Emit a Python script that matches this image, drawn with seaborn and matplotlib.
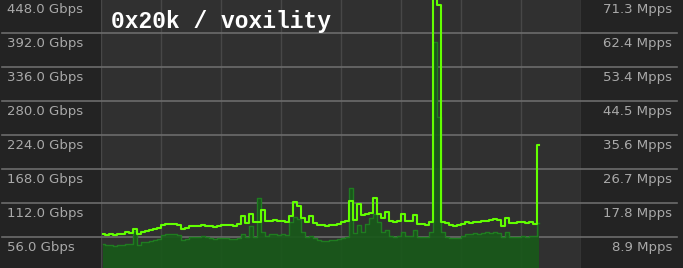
import matplotlib
matplotlib.use("Agg")
import matplotlib.pyplot as plt
import matplotlib.transforms as mtransforms
import numpy as np
import seaborn as sns

# ---------------- data ----------------
sample = list(range(110))

gbps = [44.5, 42.8, 42.8, 41.2, 42.8, 42.8, 44.5, 44.5, 65.9, 42.8,
        47.8, 47.8, 49.4, 51.1, 52.7, 59.3, 60.9, 60.9, 60.9, 59.3,
        51.1, 52.7, 56.0, 56.0, 56.0, 57.6, 56.0, 54.4, 52.7, 54.4,
        54.4, 54.4, 52.7, 52.7, 54.4, 60.9, 56.0, 74.1, 56.0, 120.2,
        64.2, 57.6, 60.9, 60.9, 59.3, 60.9, 59.3, 80.7, 88.9, 85.6,
        64.2, 56.0, 57.6, 54.4, 51.1, 49.4, 49.4, 51.1, 51.1, 52.7,
        54.4, 56.0, 136.7, 62.6, 75.8, 64.2, 77.4, 87.3, 93.9, 80.7,
        64.2, 67.5, 57.6, 56.0, 57.6, 64.2, 57.6, 57.6, 67.5, 56.0,
        56.0, 56.0, 64.2, 377.2, 253.6, 64.2, 56.0, 54.4, 54.4, 54.4,
        57.6, 60.9, 60.9, 62.6, 60.9, 62.6, 64.2, 62.6, 64.2, 62.6,
        56.0, 64.2, 56.0, 56.0, 56.0, 57.6, 56.0, 57.6, 57.6, 79.1]

mpps = [9.7, 9.4, 9.7, 9.4, 9.7, 9.7, 10.2, 10.0, 11.0, 9.7,
        10.2, 10.5, 10.8, 11.0, 11.3, 12.1, 12.3, 12.3, 12.3, 12.1,
        11.0, 11.3, 11.8, 11.8, 11.8, 12.1, 11.8, 11.8, 11.5, 11.8,
        12.1, 12.1, 12.1, 11.8, 12.3, 14.4, 12.6, 14.9, 12.8, 12.8,
        16.0, 13.1, 13.1, 13.4, 13.1, 13.1, 12.8, 14.4, 18.1, 17.0,
        13.9, 12.8, 14.4, 12.6, 12.1, 12.1, 11.8, 12.1, 12.1, 12.3,
        12.8, 13.1, 18.4, 13.4, 17.6, 14.7, 14.9, 15.2, 19.1, 14.9,
        13.9, 15.5, 13.1, 12.8, 13.1, 14.9, 13.1, 13.1, 14.7, 12.3,
        12.3, 12.1, 12.8, 72.0, 69.6, 12.8, 12.6, 12.1, 11.8, 12.1,
        12.3, 12.8, 12.6, 12.8, 12.8, 13.1, 13.1, 13.4, 13.6, 13.4,
        11.8, 13.9, 12.6, 12.6, 12.8, 12.8, 12.6, 12.8, 12.3, 33.0]

gbps_ticks = [56, 112, 168, 224, 280, 336, 392, 448]
gbps_labels = ["56.0 Gbps", "112.0 Gbps", "168.0 Gbps", "224.0 Gbps",
               "280.0 Gbps", "336.0 Gbps", "392.0 Gbps", "448.0 Gbps"]
mpps_labels = ["8.9 Mpps", "17.8 Mpps", "26.7 Mpps", "35.6 Mpps",
               "44.5 Mpps", "53.4 Mpps", "62.4 Mpps", "71.3 Mpps"]
mpps_max = 71.3
title = "0x20k / voxility"

# ---------------- figure ----------------
W, H = 683, 268
fig = plt.figure(figsize=(W / 100, H / 100), dpi=100, facecolor="#232323")
ax = fig.add_axes([101 / W, -3 / H, 480 / W, 272 / H])
ax.set_facecolor("#303030")
ax.set_xlim(-0.5, 119.5)
ax.set_ylim(0, 448)

# vertical grid
for xv in np.arange(-0.5, 120, 15):
    ax.axvline(xv, color="#474747", lw=1.0, zorder=0.5)
# horizontal grid, running across the margins
for v in gbps_ticks:
    ax.axhline(v, xmin=-99 / 480, xmax=576 / 480, color="#6c6c6c", lw=1.2,
               clip_on=False, zorder=0.6)

# Gbps area
ax.fill_between(sample, gbps, step="mid", color="#19591a", alpha=0.92,
                lw=0, zorder=1)
sns.lineplot(x=sample, y=gbps, ax=ax, color="#1f7c20", lw=1.0,
             drawstyle="steps-mid", legend=False, zorder=2)

# Mpps line on twin axis
ax2 = ax.twinx()
ax2.set_ylim(0, mpps_max)
sns.lineplot(x=sample, y=mpps, ax=ax2, color="#62ff00", lw=1.5,
             drawstyle="steps-mid", legend=False, zorder=3)

for a in (ax, ax2):
    for s in a.spines.values():
        s.set_visible(False)
    a.set_xticks([])
    a.set_yticks([])
    a.set_xlabel("")
    a.set_ylabel("")

# tick labels placed just below each gridline
tl = mtransforms.offset_copy(
    mtransforms.blended_transform_factory(fig.transFigure, ax.transData),
    fig=fig, x=0, y=-10, units="dots")
for v, lab in zip(gbps_ticks, gbps_labels):
    fig.text(7 / W, v, lab, transform=tl, ha="left", va="center",
             color="#a9a9a9", fontsize=9.5, family="DejaVu Sans")
for v, lab in zip(gbps_ticks, mpps_labels):
    fig.text(672 / W, v, lab, transform=tl, ha="right", va="center",
             color="#a9a9a9", fontsize=9.5, family="DejaVu Sans")

fig.text(111 / W, 1 - 28 / H, title, ha="left", va="baseline",
         color="white", fontsize=16.5, family="Liberation Mono",
         fontweight="bold")

fig.savefig("out.png", dpi=100, facecolor=fig.get_facecolor())
